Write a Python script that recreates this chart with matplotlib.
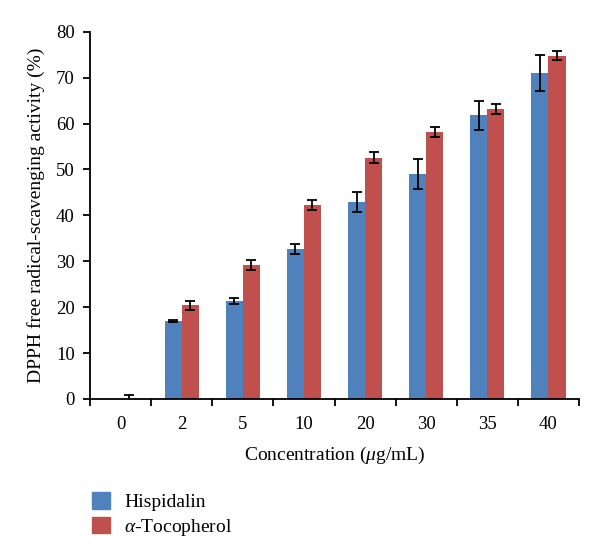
import numpy as np
import matplotlib.pyplot as plt
from matplotlib.patches import Patch

plt.rcParams['font.family'] = ['Liberation Serif', 'DejaVu Serif']
plt.rcParams['mathtext.fontset'] = 'custom'
plt.rcParams['mathtext.it'] = 'Liberation Serif:italic'
plt.rcParams['mathtext.rm'] = 'Liberation Serif'

concentrations = ['0', '2', '5', '10', '20', '30', '35', '40']
hispidalin = [0, 17.0, 21.3, 32.6, 42.9, 49.0, 61.8, 71.0]
hispidalin_err = [np.nan, 0.3, 0.6, 1.1, 2.1, 3.2, 3.2, 4.0]
tocopherol = [0, 20.4, 29.1, 42.3, 52.6, 58.2, 63.2, 74.8]
tocopherol_err = [0.9, 1.0, 1.1, 1.1, 1.2, 1.1, 1.1, 1.0]

blue = '#4F81BD'
red = '#C0504D'

fig = plt.figure(figsize=(6, 5.58), dpi=100)
ax = fig.add_axes([0.15, 0.285, 0.815, 0.658])

x = np.arange(len(concentrations))
w = 0.28
err_kw = dict(ecolor='black', elinewidth=1.3, capsize=3.6, capthick=1.3)
ax.bar(x - w / 2, hispidalin, w, color=blue, yerr=hispidalin_err, error_kw=err_kw)
ax.bar(x + w / 2, tocopherol, w, color=red, yerr=tocopherol_err, error_kw=err_kw)

ax.set_xlim(-0.5, len(concentrations) - 0.5)
ax.set_ylim(0, 80)
ax.set_yticks(range(0, 81, 10))

# category boundaries as ticks, labels at centers
ax.set_xticks(np.arange(-0.5, len(concentrations)), labels=[])
ax.set_xticks(x, labels=concentrations, minor=True)
ax.tick_params(axis='x', which='minor', length=0, pad=12, labelsize=13.5)
ax.tick_params(axis='x', which='major', length=5, width=1.3, direction='out')
ax.tick_params(axis='y', length=5, width=1.3, direction='out', labelsize=13.5, pad=6)

for s in ['top', 'right']:
    ax.spines[s].set_visible(False)
for s in ['left', 'bottom']:
    ax.spines[s].set_linewidth(1.3)

ax.set_xlabel(r'Concentration ($\mu$g/mL)', fontsize=14, labelpad=9)
ax.set_ylabel('DPPH free radical-scavenging activity (%)', fontsize=14, labelpad=8)

handles = [Patch(color=blue, label='Hispidalin'),
           Patch(color=red, label=r'$\alpha$-Tocopherol')]
fig.legend(handles=handles, loc='upper left', bbox_to_anchor=(0.124, 0.15),
           frameon=False, fontsize=14, handlelength=0.95, handleheight=0.95,
           handletextpad=0.7, labelspacing=0.3)

plt.savefig('out.png', dpi=100)
